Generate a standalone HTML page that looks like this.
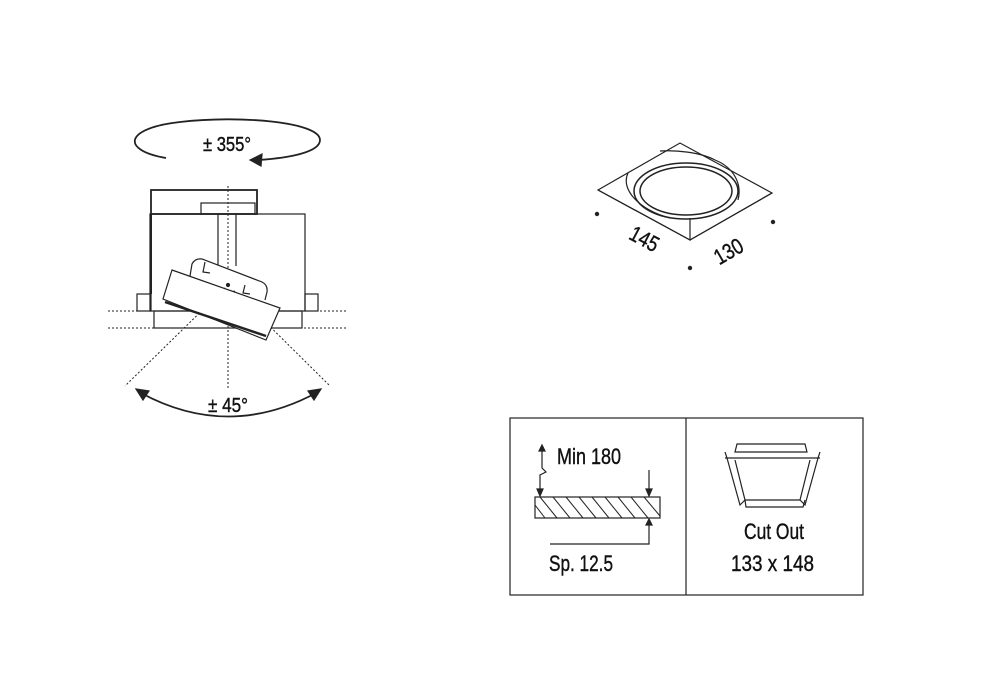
<!DOCTYPE html>
<html><head><meta charset="utf-8"><style>html,body{margin:0;padding:0;background:#fff}svg{display:block}</style></head>
<body>
<svg width="1000" height="700" viewBox="0 0 1000 700" xmlns="http://www.w3.org/2000/svg" font-family="'Liberation Sans Narrow','Liberation Sans',sans-serif">
<g fill="none" stroke="#222" stroke-width="1.2">
<path d="M166 158 C 120 150 125 128 180 122 C 240 115 320 122 320 140 C 320 152 290 158 258 160" stroke-width="1.8"/>
<path d="M250 160 L262 154 L261 166 Z" fill="#222"/>
<rect x="151" y="190" width="106" height="24" stroke-width="1.8"/>
<rect x="201" y="203" width="54" height="11"/>
<rect x="150" y="214" width="155" height="97"/>
<line x1="151" y1="214" x2="151" y2="294" stroke-width="2"/>
<rect x="137" y="294" width="14" height="17"/>
<rect x="305" y="294" width="13" height="17"/>
<rect x="154" y="311" width="148" height="17"/>
<line x1="218" y1="214" x2="218" y2="266"/>
<line x1="236" y1="214" x2="236" y2="266"/>
<g stroke-dasharray="2,2" stroke-width="1">
<line x1="108" y1="311" x2="348" y2="311"/>
<line x1="108" y1="328" x2="348" y2="328"/>
<line x1="228" y1="186" x2="228" y2="390"/>
<line x1="228" y1="285" x2="125" y2="386"/>
<line x1="228" y1="285" x2="330" y2="386"/>
</g>
<path d="M190 276 L192 264 Q195 258 202 259 L262 282 Q268 285 267 292 L265 300" fill="#fff"/>
<path d="M205 262 L203 272 L210 273 M245 285 L243 293 L250 294"/>
<path d="M172 270 L280 308 L266 340 L163 299 Z" fill="#fff"/>
<line x1="165" y1="302" x2="266" y2="336" stroke-width="2.5"/>
<circle cx="228" cy="285" r="1.5" fill="#222"/>
<path d="M141 393 Q 228 440 316 393" stroke-width="1.8"/>
<path d="M136 389 L149 391 L143 400 Z" fill="#222"/>
<path d="M321 389 L308 391 L314 400 Z" fill="#222"/>
<path d="M598 190 L680 143 L772 193 L690 240 Z"/>
<path d="M598 190 L690 240 L690 218 M690 240 L772 193"/>
<path d="M628 173 C 620 190 640 210 670 218 M715 160 C 735 168 742 185 738 200 M660 151 C 675 150 700 152 715 160"/>
<ellipse cx="686" cy="191" rx="52" ry="28" stroke-width="1.5"/>
<ellipse cx="686" cy="191" rx="46" ry="24" stroke-width="1.5"/>
<rect x="510" y="418" width="353" height="177"/>
<line x1="686" y1="418" x2="686" y2="595"/>
<rect x="535" y="497" width="125" height="21"/>
<g stroke-width="1">
<line x1="540" y1="497" x2="557" y2="518"/><line x1="553" y1="497" x2="570" y2="518"/><line x1="566" y1="497" x2="583" y2="518"/><line x1="579" y1="497" x2="596" y2="518"/><line x1="592" y1="497" x2="609" y2="518"/><line x1="605" y1="497" x2="622" y2="518"/><line x1="618" y1="497" x2="635" y2="518"/><line x1="631" y1="497" x2="648" y2="518"/><line x1="644" y1="497" x2="660" y2="516"/>
<line x1="535" y1="505" x2="545" y2="518"/>
</g>
<path d="M542 450 L542 468 L546 472 L540 475 L540 492"/>
<path d="M539 451 L542 445 L545 451 Z M537 489 L543 489 L540 496 Z M646 489 L652 489 L649 496 Z M646 525 L652 525 L649 519 Z" fill="#222"/>
<line x1="649" y1="470" x2="649" y2="490"/>
<path d="M649 525 L649 544 L550 544"/>
<path d="M737 444 L805 444 L807 452 L735 452 Z"/>
<line x1="725" y1="458" x2="820" y2="458"/>
<path d="M725 452 L727 458 L740 505 L745 500 M820 452 L818 458 L805 505 L800 500"/>
<path d="M735 460 L745 500 L800 500 L810 460"/>
<path d="M745 500 L746 507 L803 507 L805 500"/>
</g>
<g fill="#222" stroke="none">
<circle cx="597" cy="214" r="2.2"/><circle cx="773" cy="222" r="2.2"/><circle cx="690" cy="268" r="2.2"/>
</g>
<g fill="#111" font-size="22" stroke="#111" stroke-width="0.4">
<text x="203" y="151" font-size="20" textLength="48" lengthAdjust="spacingAndGlyphs">± 355°</text>
<text x="208" y="412" font-size="20" textLength="40" lengthAdjust="spacingAndGlyphs">± 45°</text>
<text x="626" y="245" transform="rotate(28 640 245)" textLength="30" lengthAdjust="spacingAndGlyphs">145</text>
<text x="713" y="258" transform="rotate(-30 730 250)" textLength="30" lengthAdjust="spacingAndGlyphs">130</text>
<text x="557" y="464" textLength="64" lengthAdjust="spacingAndGlyphs">Min 180</text>
<text x="549" y="571" textLength="64" lengthAdjust="spacingAndGlyphs">Sp. 12.5</text>
<text x="744" y="539" textLength="60" lengthAdjust="spacingAndGlyphs">Cut Out</text>
<text x="731" y="571" textLength="83" lengthAdjust="spacingAndGlyphs">133 x 148</text>
</g>
</svg>
</body></html>
